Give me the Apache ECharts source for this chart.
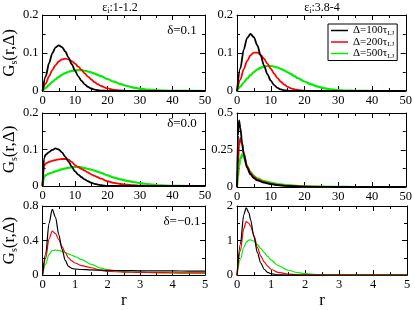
<!DOCTYPE html>
<html><head><meta charset="utf-8">
<script src="https://cdn.jsdelivr.net/npm/echarts@6/dist/echarts.min.js"></script>
<style>html,body{margin:0;padding:0;background:#fff}#c{width:415px;height:310px}</style>
</head><body><div id="c"></div>
<script>
// ---- data ----
const seriesNames = ['d100', 'd200', 'd500'];
const legendLabels = ['Δ=100τ', 'Δ=200τ', 'Δ=500τ'];
const colTitles = ['1-1.2', '3.8-4'];
const deltaLabels = ['δ=0.1', 'δ=0.0', 'δ=−0.1'];

// top row (x 0..50)
const rTop = [0,1,2,3,4,5,6,7,8,9,10,11,12,13,14,15,16,17,18,20,22,24,26,28,30,32,35,40,45,50];
const p1Black = [0,0.0388,0.0731,0.0991,0.1149,0.12,0.1156,0.104,0.088,0.0705,0.0536,0.0387,0.0267,0.0175,0.011,0.0066,0.0038,0.0021,0.0011,0.0003,0,0,0,0,0,0,0,0,0,0];
const p1Red   = [0,0.0198,0.0384,0.0548,0.068,0.0776,0.0832,0.085,0.0834,0.0788,0.0722,0.0641,0.0553,0.0464,0.0379,0.0302,0.0235,0.0178,0.0132,0.0068,0.0031,0.0013,0.0005,0.0002,0,0,0,0,0,0];
const p1Green = [0,0.0082,0.0162,0.0238,0.0309,0.0372,0.0426,0.0471,0.0506,0.0531,0.0545,0.055,0.0546,0.0533,0.0513,0.0488,0.0458,0.0425,0.0389,0.0316,0.0245,0.0183,0.0131,0.009,0.006,0.0038,0.0018,0.0005,0.0001,0];
const p2Black = [0,0.0599,0.1091,0.14,0.15,0.1416,0.1204,0.0937,0.0669,0.0443,0.0272,0.0155,0.0082,0.0041,0.0019,0.0008,0.0003,0.0001,0,0,0,0,0,0,0,0,0,0,0,0];
const p2Red   = [0,0.0301,0.0573,0.079,0.0939,0.1012,0.1012,0.0952,0.0849,0.0721,0.0586,0.0455,0.034,0.0243,0.0168,0.0111,0.0071,0.0044,0.0026,0.0008,0.0002,0,0,0,0,0,0,0,0,0];
const p2Green = [0,0.0114,0.0224,0.0327,0.0419,0.0499,0.0563,0.0611,0.0642,0.0658,0.0658,0.0644,0.0619,0.0583,0.0541,0.0494,0.0444,0.0393,0.0342,0.025,0.0173,0.0113,0.007,0.0042,0.0024,0.0013,0.0005,0.0001,0,0];

// middle-left (x 0..50)
const rMid = [0,0.5,1,2,3,4,5,6,7,8,9,10,11,12,13,14,15,16,17,18,20,22,24,26,28,30,32,34,36,38,40,45,50];
const p3Black = [0,0.078,0.086,0.093,0.099,0.103,0.1,0.092,0.08,0.067,0.053,0.04,0.031,0.024,0.018,0.013,0.009,0.006,0.004,0.002,0.0005,0,0,0,0,0,0,0,0,0,0,0,0];
const p3Red   = [0,0.056,0.062,0.066,0.069,0.071,0.073,0.074,0.074,0.072,0.066,0.057,0.052,0.047,0.042,0.037,0.032,0.028,0.024,0.02,0.013,0.0085,0.0055,0.0035,0.002,0.001,0.0004,0,0,0,0,0,0];
const p3Green = [0,0.025,0.03,0.034,0.037,0.04,0.043,0.046,0.048,0.05,0.051,0.052,0.052,0.051,0.049,0.047,0.045,0.042,0.039,0.036,0.029,0.023,0.018,0.014,0.011,0.008,0.0055,0.0035,0.002,0.001,0.0005,0,0];

// middle-right (x 0..50)
const rMid2 = [0,0.3,0.6,1,1.5,2,3,4,5,6,8,10,12,15,20,25,30,35,40,45,50];
const p4Black = [0,0.35,0.45,0.40,0.30,0.22,0.13,0.085,0.06,0.045,0.03,0.02,0.013,0.007,0.002,0.0005,0,0,0,0,0];
const p4Red   = [0,0.15,0.28,0.33,0.29,0.23,0.14,0.095,0.068,0.052,0.034,0.023,0.015,0.008,0.003,0.001,0,0,0,0,0];
const p4Green = [0,0.07,0.14,0.19,0.22,0.20,0.14,0.10,0.075,0.058,0.04,0.029,0.02,0.012,0.005,0.002,0.0005,0,0,0,0];

// bottom-left (x 0..5)
const rBot = [0,0.1,0.2,0.3,0.4,0.5,0.6,0.7,0.8,0.9,1.0,1.2,1.5,1.8,2.0,2.5,3,3.5,4,4.5,5];
const p5Black = [0,0.25,0.6,0.76,0.67,0.47,0.3,0.17,0.1,0.078,0.07,0.065,0.06,0.057,0.055,0.052,0.05,0.049,0.048,0.047,0.046];
const p5Red   = [0,0.2,0.42,0.51,0.48,0.41,0.33,0.26,0.2,0.165,0.14,0.11,0.085,0.055,0.042,0.035,0.031,0.029,0.027,0.026,0.025];
const p5Green = [0,0.13,0.24,0.285,0.29,0.285,0.275,0.26,0.245,0.23,0.215,0.18,0.125,0.08,0.06,0.04,0.032,0.028,0.025,0.023,0.022];

// bottom-right (x 0..5)
const rBot2 = [0,0.1,0.2,0.27,0.35,0.4,0.5,0.6,0.7,0.8,0.9,1.0,1.2,1.5,1.8,2.0,2.5,3,4,5];
const p6Black = [0,0.9,1.75,1.95,1.8,1.6,1.1,0.65,0.35,0.17,0.08,0.04,0.01,0,0,0,0,0,0,0];
const p6Red   = [0,0.7,1.35,1.55,1.5,1.42,1.15,0.8,0.55,0.38,0.26,0.17,0.08,0.03,0.01,0.005,0,0,0,0];
const p6Green = [0,0.45,0.8,0.95,1.01,1.02,0.98,0.88,0.77,0.65,0.54,0.44,0.28,0.14,0.07,0.04,0.01,0.003,0,0];

// axis ranges: [min, max, interval]
const yTicks = [[0,0.2,0.1],[0,0.2,0.1],[0,0.2,0.1],[0,0.5,0.25],[0,0.8,0.4],[0,2,1]];
const xTicks = [[0,50,10],[0,50,10],[0,50,10],[0,50,10],[0,5,1],[0,5,1]];

// ---- layout ----
const FONT = 'Liberation Serif';
const grids = [
  {left:36, top:15, width:169, height:76},
  {left:237, top:15, width:170, height:76},
  {left:36, top:113, width:169, height:73},
  {left:237, top:113, width:170, height:74},
  {left:36, top:206, width:169, height:82},
  {left:237, top:206, width:170, height:82}
];
const panels = [
  [rTop, p1Black, p1Red, p1Green],
  [rTop, p2Black, p2Red, p2Green],
  [rMid, p3Black, p3Red, p3Green],
  [rMid2, p4Black, p4Red, p4Green],
  [rBot, p5Black, p5Red, p5Green],
  [rBot2, p6Black, p6Red, p6Green]
];
const colors = ['#000000', '#ff0000', '#00ee00'];

const axisCommon = {
  axisLine: {show: true, onZero: false, lineStyle: {color: '#000', width: 1}},
  axisTick: {show: true, inside: true, length: 5, lineStyle: {color: '#000'}},
  minorTick: {show: true, splitNumber: 2, length: 3, lineStyle: {color: '#000'}},
  splitLine: {show: false},
  minorSplitLine: {show: false}
};
const labelStyle = {color: '#000', fontFamily: FONT, fontSize: 12.5};

const xAxes = [], yAxes = [], series = [];
grids.forEach((g, i) => {
  const [xmin, xmax, xint] = xTicks[i];
  const [ymin, ymax, yint] = yTicks[i];
  const isBottom = i >= 4;
  xAxes.push(Object.assign({}, axisCommon, {
    type: 'value', gridIndex: i, min: xmin, max: xmax, interval: xint, position: 'bottom',
    axisLabel: Object.assign({margin: 3}, labelStyle),
    name: isBottom ? 'r' : '', nameLocation: 'middle', nameGap: 10,
    nameTextStyle: {color: '#000', fontFamily: FONT, fontSize: 17}
  }));
  xAxes.push(Object.assign({}, axisCommon, {
    type: 'value', gridIndex: i, min: xmin, max: xmax, interval: xint, position: 'top',
    axisLabel: {show: false}
  }));
  const isLeft = i % 2 === 0;
  yAxes.push(Object.assign({}, axisCommon, {
    type: 'value', gridIndex: i, min: ymin, max: ymax, interval: yint, position: 'left',
    axisLabel: Object.assign({margin: 4}, labelStyle),
    name: isLeft ? '{g|G}{s|s}{g|(r,Δ)}' : '', nameLocation: 'middle', nameGap: 20,
    nameTextStyle: {color: '#000', fontFamily: FONT, fontSize: 17,
      rich: {g: {fontFamily: FONT, fontSize: 17, color: '#000'},
             s: {fontFamily: FONT, fontSize: 10, color: '#000', padding: [9, 0, 0, 0]}}}
  }));
  yAxes.push(Object.assign({}, axisCommon, {
    type: 'value', gridIndex: i, min: ymin, max: ymax, interval: yint, position: 'right',
    axisLabel: {show: false}
  }));
  const [rs, b, r, gr] = panels[i];
  [b, r, gr].forEach((ys, k) => {
    series.push({
      type: 'line', name: seriesNames[k], xAxisIndex: 2 * i, yAxisIndex: 2 * i,
      data: rs.map((x, j) => [x, ys[j]]),
      showSymbol: false, symbol: 'none', smooth: 0.3, smoothMonotone: 'x',
      lineStyle: {color: colors[k], width: i < 4 ? (k === 2 ? 2.2 : 1.8) : 1.2},
      itemStyle: {color: colors[k]}, z: 3 - k, animation: false, silent: true
    });
  });
});

const titleRich = {
  a: {fontFamily: FONT, fontSize: 12, fontWeight: 'normal', color: '#000'},
  s: {fontFamily: FONT, fontSize: 8, fontWeight: 'normal', color: '#000', padding: [7, 0, 0, 0]}
};
const titles = colTitles.map((t, c) => ({
  text: '{a|ε}{s|i}{a|:' + t + '}',
  left: (c === 0 ? 120 : 322), top: 0, textAlign: 'center',
  padding: 0,
  textStyle: {fontWeight: 'normal', fontFamily: FONT, fontSize: 12, rich: titleRich}
}));

const deltaPos = [[182, 31], [182, 124], [182, 222]];
const graphics = deltaLabels.map((t, i) => ({
  type: 'text', x: deltaPos[i][0], y: deltaPos[i][1],
  style: {text: t, fill: '#000', font: '13px "Liberation Serif"', align: 'center', verticalAlign: 'middle'},
  z: 10
}));

const chart = echarts.init(document.getElementById('c'), null, {renderer: 'canvas'});
chart.setOption({
  animation: false,
  backgroundColor: '#fff',
  title: titles,
  grid: grids,
  xAxis: xAxes,
  yAxis: yAxes,
  series: series,
  graphic: graphics,
  legend: {
    orient: 'vertical', left: 328, top: 24, data: seriesNames,
    backgroundColor: '#fff', borderColor: '#000', borderWidth: 1,
    padding: [1, 3, 1, 3], itemGap: 0, itemWidth: 17, itemHeight: 1.5, icon: 'rect',
    formatter: name => '{a|' + legendLabels[seriesNames.indexOf(name)] + '}{s|LJ}',
    textStyle: {color: '#000', fontFamily: FONT, fontSize: 11,
      rich: {a: {fontFamily: FONT, fontSize: 11, color: '#000', lineHeight: 13},
             s: {fontFamily: FONT, fontSize: 7, color: '#000', padding: [5, 0, 0, 0]}}},
    selectedMode: false
  }
});
</script></body></html>
